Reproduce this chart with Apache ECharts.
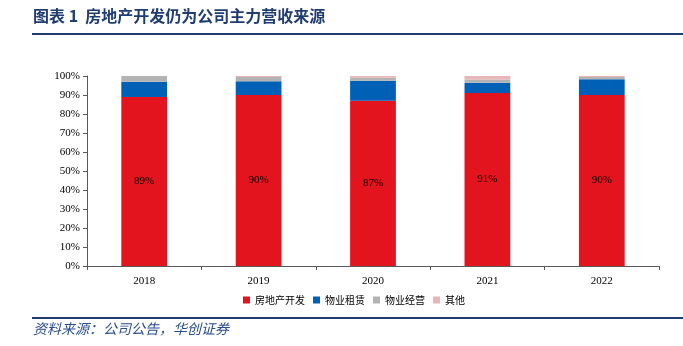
<!DOCTYPE html>
<html>
<head>
<meta charset="utf-8">
<script src="https://cdn.jsdelivr.net/npm/echarts@6/dist/echarts.min.js"></script>
<style>
html,body{margin:0;padding:0;background:#fff;}
#chart{width:683px;height:346px;}
</style>
</head>
<body>
<div id="chart"></div>
<script>
// 收入构成（%）
const years = ['2018', '2019', '2020', '2021', '2022'];
const devShare = [89, 90, 87, 91, 90];          // 房地产开发
const leaseShare = [8.0, 7.2, 10.5, 5.5, 8.3];  // 物业租赁
const propShare = [3.0, 2.3, 1.6, 1.6, 1.2];    // 物业经营
const otherShare = [0.0, 0.5, 0.9, 1.9, 0.5];   // 其他
const yTicks = [0, 10, 20, 30, 40, 50, 60, 70, 80, 90, 100];

const serif = '"Liberation Serif","DejaVu Serif",serif';
const cjk = '"Noto Sans CJK SC",sans-serif';
const navy = '#1f3c73';

const chart = echarts.init(document.getElementById('chart'), null, {renderer: 'canvas'});

function stackSeries(name, data, color, withLabel) {
  return {
    name: name,
    type: 'bar',
    stack: 'total',
    barWidth: '40%',
    data: data,
    itemStyle: {color: color},
    label: withLabel ? {
      show: true,
      position: 'inside',
      formatter: p => p.value + '%',
      color: '#000',
      fontFamily: serif,
      fontSize: 11
    } : {show: false},
    emphasis: {disabled: true}
  };
}

chart.setOption({
  animation: false,
  backgroundColor: '#fff',
  grid: {left: 87, right: 24, top: 76, bottom: 80, containLabel: false},
  xAxis: {
    type: 'category',
    data: years,
    axisLine: {lineStyle: {color: '#595959', width: 1}},
    axisTick: {show: true, alignWithLabel: false, length: 4, lineStyle: {color: '#595959'}},
    axisLabel: {color: '#000', fontFamily: serif, fontSize: 11, margin: 10}
  },
  yAxis: {
    type: 'value',
    min: 0,
    max: 100,
    interval: 10,
    axisLine: {show: true, lineStyle: {color: '#595959', width: 1}},
    axisTick: {show: true, length: 4, lineStyle: {color: '#595959'}},
    splitLine: {show: false},
    axisLabel: {
      color: '#000', fontFamily: serif, fontSize: 11, margin: 7,
      formatter: v => yTicks.includes(v) ? v + '%' : ''
    }
  },
  legend: {
    top: 290,
    left: 238,
    itemWidth: 7,
    itemHeight: 7,
    itemGap: 8,
    icon: 'rect',
    textStyle: {fontFamily: cjk, fontSize: 10, color: '#000'},
    data: ['房地产开发', '物业租赁', '物业经营', '其他']
  },
  series: [
    stackSeries('房地产开发', devShare, '#e3141e', true),
    stackSeries('物业租赁', leaseShare, '#0060b6', false),
    stackSeries('物业经营', propShare, '#b3b3b3', false),
    stackSeries('其他', otherShare, '#e8b5b8', false)
  ],
  graphic: [
    {
      type: 'text', left: 33, top: 8,
      style: {text: '图表 1  房地产开发仍为公司主力营收来源', fill: navy,
        font: 'bold 16px "Noto Sans CJK SC", sans-serif'}
    },
    {
      type: 'line', shape: {x1: 32, y1: 34, x2: 683, y2: 34},
      style: {stroke: navy, lineWidth: 2}
    },
    {
      type: 'line', shape: {x1: 32, y1: 318, x2: 683, y2: 318},
      style: {stroke: navy, lineWidth: 2}
    },
    {
      type: 'text', left: 33, top: 322,
      style: {text: '资料来源：公司公告，华创证券', fill: '#2a4d8c',
        font: 'italic 14px "Noto Sans CJK SC", sans-serif'}
    }
  ]
});
</script>
</body>
</html>
